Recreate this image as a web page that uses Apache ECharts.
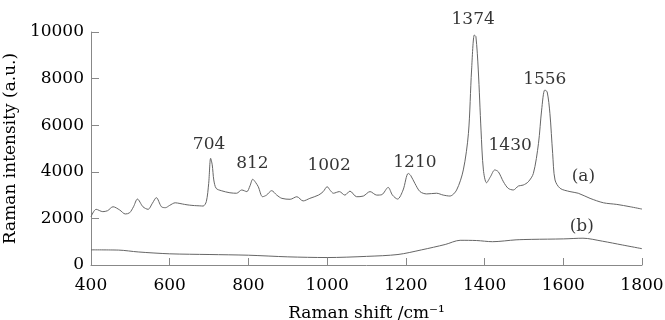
<!DOCTYPE html>
<html>
<head>
<meta charset="utf-8">
<script src="https://cdn.jsdelivr.net/npm/echarts@6/dist/echarts.min.js"></script>
<style>
  html, body { margin: 0; padding: 0; background: #fff; }
  #chart { width: 665px; height: 320px; }
</style>
</head>
<body>
<div id="chart"></div>
<script>
// spectrum (a): Raman shift / intensity
const shiftA = [400, 413, 430, 442, 456, 473, 487, 498, 508, 518, 532, 545, 556, 566, 579, 589, 600, 614, 626, 638, 650, 663, 675, 685, 693, 699, 704, 708, 712, 718, 731, 753, 770, 783, 796, 804, 811, 818, 825, 836, 846, 859, 872, 885, 906, 923, 939, 956, 978, 990, 1000, 1008, 1016, 1031, 1045, 1058, 1075, 1092, 1109, 1126, 1139, 1155, 1166, 1179, 1193, 1206, 1212, 1223, 1236, 1253, 1278, 1295, 1312, 1329, 1346, 1359, 1367, 1374, 1378, 1384, 1391, 1397, 1405, 1415, 1426, 1435, 1448, 1460, 1473, 1486, 1498, 1511, 1524, 1537, 1545, 1553, 1559, 1566, 1573, 1579, 1592, 1617, 1638, 1668, 1702, 1736, 1770, 1800];
const intensityA = [2070, 2390, 2290, 2330, 2500, 2360, 2190, 2240, 2500, 2830, 2500, 2390, 2650, 2890, 2500, 2460, 2560, 2670, 2640, 2600, 2570, 2550, 2540, 2530, 2720, 3500, 4580, 4300, 3650, 3290, 3190, 3100, 3080, 3220, 3150, 3400, 3680, 3550, 3360, 2930, 3000, 3190, 3000, 2860, 2820, 2930, 2750, 2860, 3000, 3150, 3360, 3200, 3080, 3150, 3000, 3170, 2930, 2960, 3150, 3000, 3020, 3330, 3000, 2830, 3220, 3930, 3850, 3500, 3150, 3050, 3080, 3000, 2960, 3220, 4080, 5650, 8370, 9870, 9800, 8370, 5790, 4080, 3530, 3790, 4080, 4000, 3570, 3290, 3220, 3390, 3430, 3570, 3930, 5220, 6650, 7510, 7430, 6510, 4790, 3650, 3290, 3150, 3080, 2860, 2670, 2600, 2500, 2400];

// spectrum (b)
const shiftB = [400, 470, 520, 600, 700, 800, 900, 1000, 1100, 1180, 1240, 1300, 1338, 1380, 1420, 1480, 1520, 1600, 1650, 1700, 1750, 1800];
const intensityB = [650, 640, 560, 480, 450, 420, 350, 320, 370, 450, 650, 880, 1060, 1050, 1000, 1080, 1100, 1120, 1150, 1020, 860, 700];

// annotations: text, anchor shift, anchor intensity
const noteText = ['704', '812', '1002', '1210', '1374', '1430', '1556', '(a)', '(b)'];
const noteShift = [700, 810, 1005, 1223, 1371, 1465, 1553, 1651, 1647];
const noteIntensity = [5150, 4350, 4250, 4390, 10515, 5110, 7970, 3790, 1640];

const xTicks = [400, 1800, 200];
const yTicks = [0, 10000, 2000];

const font = 'DejaVu Serif';
const fontSize = 17;
const lineGray = '#666';
const axisGray = '#888';

const chart = echarts.init(document.getElementById('chart'), null, { renderer: 'canvas' });

const axisCommon = {
  type: 'value',
  nameLocation: 'middle',
  nameTextStyle: { fontFamily: font, fontSize: fontSize, color: '#000' },
  axisLine: { show: true, lineStyle: { color: axisGray, width: 1 } },
  axisTick: { show: true, inside: true, lineStyle: { color: axisGray } },
  axisLabel: { fontFamily: font, fontSize: fontSize, color: '#000', formatter: v => String(v) },
  splitLine: { show: false }
};

chart.setOption({
  animation: false,
  backgroundColor: '#fff',
  grid: { left: 91, right: 23, top: 32, bottom: 55, containLabel: false, outerBoundsMode: 'none' },
  xAxis: Object.assign({}, axisCommon, {
    min: xTicks[0], max: xTicks[1], interval: xTicks[2],
    name: 'Raman shift /cm⁻¹',
    nameGap: 40,
    axisTick: Object.assign({}, axisCommon.axisTick, { length: 7 }),
    axisLabel: Object.assign({}, axisCommon.axisLabel, { margin: 12 })
  }),
  yAxis: Object.assign({}, axisCommon, {
    min: yTicks[0], max: yTicks[1], interval: yTicks[2],
    name: 'Raman intensity (a.u.)',
    nameGap: 68,
    axisTick: Object.assign({}, axisCommon.axisTick, { length: 8 }),
    axisLabel: Object.assign({}, axisCommon.axisLabel, { margin: 7 })
  }),
  series: [
    {
      name: '(a)',
      type: 'line',
      showSymbol: false,
      smooth: 0.3,
      lineStyle: { color: lineGray, width: 1 },
      data: shiftA.map((x, i) => [x, intensityA[i]])
    },
    {
      name: '(b)',
      type: 'line',
      showSymbol: false,
      smooth: 0.3,
      lineStyle: { color: lineGray, width: 1 },
      data: shiftB.map((x, i) => [x, intensityB[i]])
    },
    {
      name: 'notes',
      type: 'scatter',
      symbolSize: 0,
      clip: false,
      silent: true,
      label: {
        show: true,
        position: 'inside',
        fontFamily: font,
        fontSize: fontSize,
        color: '#000',
        formatter: p => p.data[2]
      },
      data: noteShift.map((x, i) => [x, noteIntensity[i], noteText[i]])
    }
  ]
});
</script>
</body>
</html>
